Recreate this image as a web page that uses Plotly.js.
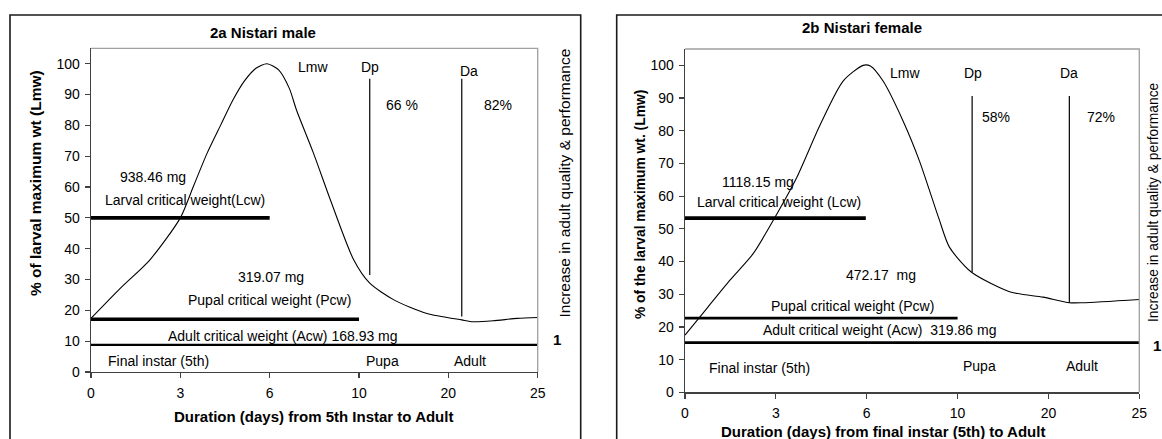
<!DOCTYPE html>
<html>
<head>
<meta charset="utf-8">
<script src="https://cdn.plot.ly/plotly-3.0.1.min.js"></script>
<style>html,body{margin:0;padding:0;background:#fff;}#chart{width:1162px;height:439px;}</style>
</head>
<body>
<div id="chart"></div>
<script>
// ---- data (x in category-position units: 0..5 -> ticks 0,3,6,10,20,25 days) ----
const tickPos = [0, 1, 2, 3, 4, 5];
const tickLabels = ['0', '3', '6', '10', '20', '25'];
const yTicks = [0, 10, 20, 30, 40, 50, 60, 70, 80, 90, 100];

// Panel 2a Nistari male
const maleX = [0, 0.33, 0.66, 1.0, 1.15, 1.30, 1.45, 1.59, 1.72, 1.85, 1.97, 2.1, 2.22, 2.30, 2.49, 2.68, 2.94, 3.12, 3.39, 3.76, 4.15, 4.28, 4.5, 4.77, 5];
const maleY = [17.4, 27.2, 36.4, 50, 60.5, 71, 80, 88.3, 94.5, 98.6, 100, 98, 92, 85, 71, 55.8, 36.4, 28.8, 23.4, 19, 16.9, 16.3, 16.6, 17.4, 17.7];
const maleLcw = 50, maleLcwEnd = 2.0;
const malePcw = 17.1, malePcwEnd = 3.0;
const maleAcw = 8.8, maleAcwEnd = 5.0;
const maleDpX = 3.12, maleDpY = [31.5, 95.1];
const maleDaX = 4.15, maleDaY = [18.0, 95.1];

// Panel 2b Nistari female
const femX = [0, 0.25, 0.495, 0.75, 1.0, 1.23, 1.49, 1.74, 1.96, 2.04, 2.18, 2.4, 2.58, 2.79, 2.91, 3.15, 3.58, 3.94, 4.23, 4.38, 5];
const femY = [17.5, 26, 34.3, 42.4, 54, 65.7, 82, 95.2, 100, 99.8, 95.2, 83, 70.8, 53.5, 44.4, 36.8, 30.7, 29.1, 27.4, 27.4, 28.4];
const femLcw = 53.3, femLcwEnd = 1.99;
const femPcw = 22.7, femPcwEnd = 3.0;
const femAcw = 15.2, femAcwEnd = 5.0;
const femDpX = 3.16, femDpY = [36.8, 90.6];
const femDaX = 4.23, femDaY = [27.4, 90.6];

// text labels [text, x, y]
const maleLabels = [
  ['938.46 mg', 0.69, 63.3],
  ['Larval critical weight(Lcw)', 1.05, 55.8],
  ['319.07 mg', 2.02, 30.9],
  ['Pupal critical weight (Pcw)', 2.0, 23.4],
  ['Adult critical weight (Acw) 168.93 mg', 2.15, 11.7],
  ['Final instar (5th)', 0.75, 3.7],
  ['Pupa', 3.26, 3.7],
  ['Adult', 4.24, 3.7],
  ['Lmw', 2.49, 99.0],
  ['Dp', 3.12, 99.0],
  ['Da', 4.23, 97.8],
  ['66 %', 3.48, 86.7],
  ['82%', 4.56, 86.7]
];
const femLabels = [
  ['1118.15 mg', 0.806, 64.2],
  ['Larval critical weight (Lcw)', 1.04, 58.1],
  ['472.17  mg', 2.16, 35.8],
  ['Pupal critical weight (Pcw)', 1.84, 26.3],
  ['Adult critical weight (Acw)  319.86 mg', 2.14, 19.2],
  ['Final instar (5th)', 0.825, 7.3],
  ['Pupa', 3.24, 8.0],
  ['Adult', 4.37, 8.0],
  ['Lmw', 2.42, 97.7],
  ['Dp', 3.17, 97.7],
  ['Da', 4.23, 97.7],
  ['58%', 3.42, 84.2],
  ['72%', 4.58, 84.2]
];

// ---- layout helpers ----
const W = 1162, H = 439;
const px = v => v / W;
const py = v => 1 - v / H;
const FONT = 'Liberation Sans, Arial, Helvetica, sans-serif';

function line(x, y, xa, ya, w) {
  return {x: x, y: y, xaxis: xa, yaxis: ya, mode: 'lines', type: 'scatter',
          line: {color: '#000', width: w}, hoverinfo: 'skip', showlegend: false, cliponaxis: false};
}

const traces = [
  {x: maleX, y: maleY, xaxis: 'x', yaxis: 'y', mode: 'lines', type: 'scatter',
   line: {color: '#000', width: 1.1, shape: 'spline', smoothing: 0.7}, showlegend: false},
  line([0, maleLcwEnd], [maleLcw, maleLcw], 'x', 'y', 3.8),
  line([0, malePcwEnd], [malePcw, malePcw], 'x', 'y', 3.5),
  line([0, maleAcwEnd], [maleAcw, maleAcw], 'x', 'y', 2.2),
  line([maleDpX, maleDpX], maleDpY, 'x', 'y', 1.2),
  line([maleDaX, maleDaX], maleDaY, 'x', 'y', 1.2),

  {x: femX, y: femY, xaxis: 'x2', yaxis: 'y2', mode: 'lines', type: 'scatter',
   line: {color: '#000', width: 1.1, shape: 'spline', smoothing: 0.7}, showlegend: false},
  line([0, femLcwEnd], [femLcw, femLcw], 'x2', 'y2', 3.8),
  line([0, femPcwEnd], [femPcw, femPcw], 'x2', 'y2', 2.6),
  line([0, femAcwEnd], [femAcw, femAcw], 'x2', 'y2', 2.6),
  line([femDpX, femDpX], femDpY, 'x2', 'y2', 1.2),
  line([femDaX, femDaX], femDaY, 'x2', 'y2', 1.2)
];

const axX = (dom, anchor) => ({
  domain: dom, anchor: anchor, range: [0, 5], tickvals: tickPos, ticktext: tickLabels,
  showgrid: false, zeroline: false, showline: true, linecolor: '#404040', linewidth: 1.3,
  ticks: 'outside', ticklen: 5, tickcolor: '#404040', tickwidth: 1.2,
  tickfont: {family: FONT, size: 14, color: '#000'}, fixedrange: true, ticklabelstandoff: 3
});
const axY = (dom, anchor) => ({
  domain: dom, anchor: anchor, range: [0, 105], tickvals: yTicks,
  showgrid: false, zeroline: false, showline: true, linecolor: '#404040', linewidth: 1.3,
  ticks: 'outside', ticklen: 5, tickcolor: '#404040', tickwidth: 1.2,
  tickfont: {family: FONT, size: 14, color: '#000'}, fixedrange: true, ticklabelstandoff: 2
});

const aDomX = [px(91), px(537.7)], aDomY = [py(372), py(48.3)];
const bDomX = [px(685), px(1139.3)], bDomY = [py(392.3), py(49)];

const annotations = [];
function addLabels(list, xr, yr) {
  list.forEach(l => annotations.push({text: l[0], x: l[1], y: l[2], xref: xr, yref: yr,
    showarrow: false, font: {family: FONT, size: 14, color: '#000'}, xanchor: 'center', yanchor: 'middle'}));
}
addLabels(maleLabels, 'x', 'y');
addLabels(femLabels, 'x2', 'y2');

function paperText(text, x, y, size, bold, angle) {
  annotations.push({text: bold ? '<b>' + text + '</b>' : text, x: px(x), y: py(y), xref: 'paper', yref: 'paper',
    showarrow: false, textangle: angle || 0, xanchor: 'center', yanchor: 'middle',
    font: {family: FONT, size: size, color: '#000'}});
}
paperText('2a Nistari male', 262.5, 32, 15, true);
paperText('2b Nistari female', 862, 27.5, 15, true);
paperText('% of larval maximum wt (Lmw)', 35, 183, 15.5, true, -90);
paperText('% of the larval maximum wt. (Lmw)', 640, 204, 13.8, true, -90);
paperText('Duration (days) from 5th Instar to Adult', 313.7, 416.7, 15, true);
paperText('Duration (days) from final instar (5th) to Adult', 882.5, 431, 15, true);
paperText('Increase in adult quality &amp; performance', 564, 183.5, 15.5, false, -90);
paperText('Increase in adult quality &amp; performance', 1153, 202, 13.8, false, -90);
paperText('1', 556.7, 339, 15, true);
paperText('1', 1156.5, 345, 15, true);

const shapes = [
  // outer boxes
  {type: 'rect', xref: 'paper', yref: 'paper', x0: px(10), x1: px(580.7), y0: -0.1, y1: py(15),
   line: {color: '#1a1a1a', width: 1.6}},
  {type: 'rect', xref: 'paper', yref: 'paper', x0: px(616.7), x1: 1.1, y0: -0.1, y1: py(15),
   line: {color: '#1a1a1a', width: 1.6}},
  // plot-area top/right borders (gray)
  {type: 'path', xref: 'paper', yref: 'paper',
   path: `M ${aDomX[0]} ${aDomY[1]} L ${aDomX[1]} ${aDomY[1]} L ${aDomX[1]} ${aDomY[0]}`,
   line: {color: '#a0a0a0', width: 1.3}},
  {type: 'path', xref: 'paper', yref: 'paper',
   path: `M ${bDomX[0]} ${bDomY[1]} L ${bDomX[1]} ${bDomY[1]} L ${bDomX[1]} ${bDomY[0]}`,
   line: {color: '#a0a0a0', width: 1.3}}
];

const layout = {
  width: W, height: H, margin: {l: 0, r: 0, t: 0, b: 0},
  paper_bgcolor: '#fff', plot_bgcolor: 'rgba(0,0,0,0)', showlegend: false,
  font: {family: FONT, color: '#000'},
  xaxis: axX(aDomX, 'y'), yaxis: axY(aDomY, 'x'),
  xaxis2: axX(bDomX, 'y2'), yaxis2: axY(bDomY, 'x2'),
  annotations: annotations, shapes: shapes
};

Plotly.newPlot('chart', traces, layout, {displayModeBar: false, staticPlot: true});
</script>
</body>
</html>
